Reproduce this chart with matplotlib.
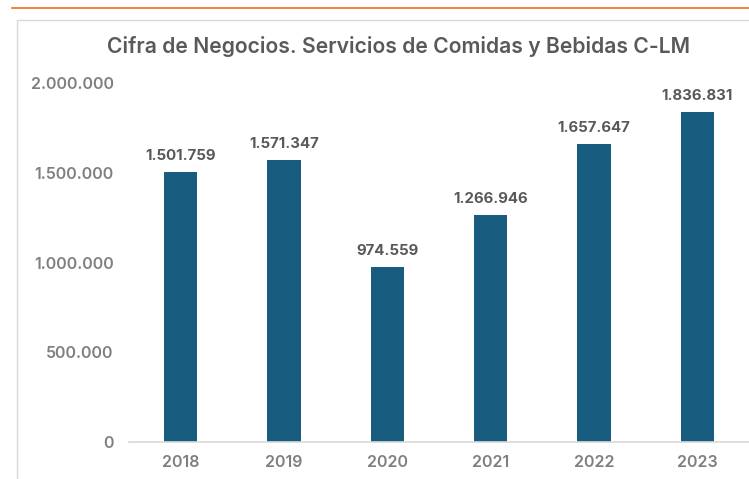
import matplotlib
matplotlib.use("Agg")
import matplotlib.pyplot as plt
from matplotlib.patches import Rectangle
from matplotlib.lines import Line2D
from matplotlib.ticker import FuncFormatter

# data
years = ["2018", "2019", "2020", "2021", "2022", "2023"]
values = [1501759, 1571347, 974559, 1266946, 1657647, 1836831]
y_ticks = [0, 500000, 1000000, 1500000, 2000000]

plt.rcParams['font.family'] = ['Inter', 'DejaVu Sans']


def miles(v, pos=None):
    # spanish thousands separator
    return f"{int(v):,}".replace(",", ".")


fig = plt.figure(figsize=(7.49, 4.79), dpi=100)

# orange line at the top and grey frame round the chart
fig.add_artist(Line2D([0.016, 1.0], [0.983, 0.983], color="#ED7D31", lw=1.3))
fig.add_artist(Rectangle((0.0227, -0.01), 1.0, 0.968, fill=False,
                         edgecolor="#d9d9d9", lw=1.0))

ax = fig.add_axes([0.1722, 0.0772, 0.8278, 0.7495])
x = range(len(years))
bars = ax.bar(x, values, width=0.32, color="#185d7f")

for b, v in zip(bars, values):
    ax.text(b.get_x() + b.get_width() / 2, v + 50000, miles(v),
            ha="center", va="bottom", fontsize=10.8, fontweight="bold",
            color="#595959")

ax.set_xlim(-0.5, len(years) - 0.5)
ax.set_ylim(0, 2000000)
ax.set_yticks(y_ticks)
ax.yaxis.set_major_formatter(FuncFormatter(miles))
ax.set_xticks(list(x))
ax.set_xticklabels(years)

for s in ["top", "right", "left"]:
    ax.spines[s].set_visible(False)
ax.spines["bottom"].set_color("#d9d9d9")
ax.spines["bottom"].set_linewidth(1.2)
ax.tick_params(axis="both", length=0, labelsize=11.5, labelcolor="#7f7f7f")
ax.tick_params(axis="y", pad=11)
ax.tick_params(axis="x", pad=9)
for lbl in ax.get_xticklabels() + ax.get_yticklabels():
    lbl.set_fontweight("semibold")

fig.text(0.532, 0.902, "Cifra de Negocios. Servicios de Comidas y Bebidas C-LM",
         ha="center", va="center", fontsize=15.2, fontweight="semibold",
         color="#595959")

fig.savefig("out.png", dpi=100)
